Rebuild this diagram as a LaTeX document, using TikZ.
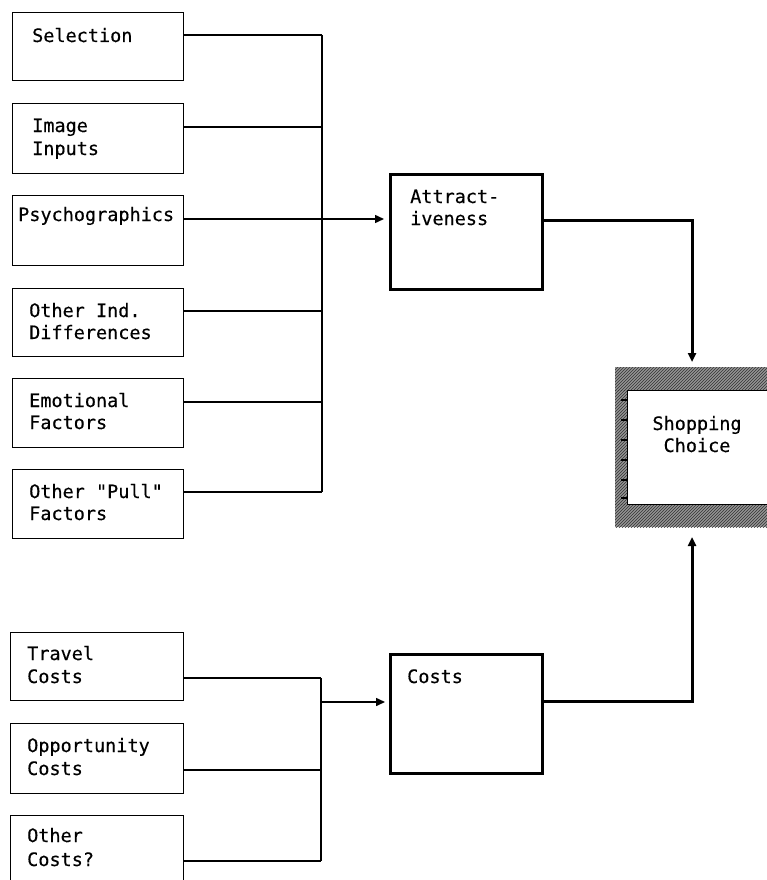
\documentclass[tikz,border=0pt]{standalone}
\usepackage{fontspec}
\newfontfamily\diagfont[FakeBold=0.35]{DejaVu Sans Mono}
\usetikzlibrary{arrows.meta,patterns}
\begin{document}
\begin{tikzpicture}[x=1pt,y=-1pt,
  box/.style={draw, line width=1.2pt, anchor=north west, inner sep=0pt},
  bigbox/.style={draw, line width=3pt, anchor=north west, inner sep=0pt},
  lbl/.style={anchor=base west, inner sep=0pt, font=\fontsize{18.5}{22}\selectfont\diagfont},
  clbl/.style={anchor=base, inner sep=0pt, font=\fontsize{18.5}{22}\selectfont\diagfont},
  con/.style={line width=1.5pt},
  thickcon/.style={line width=3pt},
  arr/.style={-{Triangle[length=9pt,width=8pt]}},
  band/.style={fill=black!42},
  bandpat/.style={pattern=north east lines, pattern color=black!80}]
\useasboundingbox (0,0) rectangle (767,880);

% ---- left boxes (attractiveness inputs)
\node[box, minimum width=171pt, minimum height=68pt] (sel) at (12,12) {};
\node[box, minimum width=171pt, minimum height=70pt] (img) at (12,103) {};
\node[box, minimum width=171pt, minimum height=70pt] (psy) at (12,195) {};
\node[box, minimum width=171pt, minimum height=68pt] (oid) at (12,288) {};
\node[box, minimum width=171pt, minimum height=69pt] (emo) at (12,378) {};
\node[box, minimum width=171pt, minimum height=69pt] (pul) at (12,469) {};

\node[lbl] (selA) at (32,42) {Selection};
\node[lbl] (imgA) at (32,132) {Image};
\node[lbl] (imgB) at (32,155) {Inputs};
\node[lbl] (psyA) at (18,221) {Psychographics};
\node[lbl] (oidA) at (29,317) {Other Ind.};
\node[lbl] (oidB) at (29,339) {Differences};
\node[lbl] (emoA) at (29,407) {Emotional};
\node[lbl] (emoB) at (29,429) {Factors};
\node[lbl] (pulA) at (29,498) {Other "Pull"};
\node[lbl] (pulB) at (29,520) {Factors};

% ---- cost boxes
\node[box, minimum width=173pt, minimum height=68pt] (trv) at (10,632) {};
\node[box, minimum width=173pt, minimum height=70pt] (opp) at (10,723) {};
\node[box, minimum width=173pt, minimum height=75pt] (oco) at (10,815) {};

\node[lbl] (trvA) at (27,660) {Travel};
\node[lbl] (trvB) at (27,683) {Costs};
\node[lbl] (oppA) at (27,752) {Opportunity};
\node[lbl] (oppB) at (27,775) {Costs};
\node[lbl] (ocoA) at (27,842) {Other};
\node[lbl] (ocoB) at (27,866) {Costs?};

% ---- middle boxes
\node[bigbox, minimum width=152pt, minimum height=115pt] (att) at (389,173) {};
\node[lbl] (attA) at (410,203) {Attract-};
\node[lbl] (attB) at (410,225) {iveness};
\node[bigbox, minimum width=152pt, minimum height=119pt] (cst) at (389,653) {};
\node[lbl] (cstA) at (407,683) {Costs};

% ---- shopping choice
\node[anchor=north west, inner sep=0pt, minimum width=160pt, minimum height=160pt] (sc) at (615,367) {};
\fill[band] (615,367) rectangle (775,390);
\fill[band] (615,504) rectangle (775,527);
\fill[band] (615,390) rectangle (627,504);
\path[bandpat] (615,367) rectangle (775,390);
\path[bandpat] (615,504) rectangle (775,527);
\path[bandpat] (615,390) rectangle (627,504);
\draw[line width=1pt] (775,390) -- (627,390) -- (627,504) -- (775,504);
\foreach \ty in {400,420,440,460,480,498}
  \draw[line width=1.5pt] (621,\ty) -- (627,\ty);
\node[clbl] (scA) at (697,430) {Shopping};
\node[clbl] (scB) at (697,452) {Choice};

% ---- attractiveness bus
\coordinate (b1) at (322,35);
\coordinate (b2) at (322,127);
\coordinate (b3) at (322,219);
\coordinate (b4) at (322,311);
\coordinate (b5) at (322,402);
\coordinate (b6) at (322,492);
\draw[con] (b1) -- (b6);
\draw[con] (sel.east |- b1) -- (b1);
\draw[con] (img.east |- b2) -- (b2);
\draw[con] (psy.east |- b3) -- (b3);
\draw[con] (oid.east |- b4) -- (b4);
\draw[con] (emo.east |- b5) -- (b5);
\draw[con] (pul.east |- b6) -- (b6);
\draw[con, arr, shorten >=5pt] (b3) -- (att.west |- b3);

% ---- costs bus
\coordinate (c1) at (321,678);
\coordinate (c2) at (321,770);
\coordinate (c3) at (321,861);
\coordinate (cA) at (321,702);
\draw[con] (c1) -- (c3);
\draw[con] (trv.east |- c1) -- (c1);
\draw[con] (opp.east |- c2) -- (c2);
\draw[con] (oco.east |- c3) -- (c3);
\draw[con, arr, shorten >=4pt] (cA) -- (cst.west |- cA);

% ---- outputs to shopping choice
\coordinate (tA) at (692,362);
\coordinate (tC) at (692,537);
\coordinate (oA) at (541,220);
\coordinate (oC) at (541,701);
\draw[thickcon, arr] (att.east |- oA) -| (tA);
\draw[thickcon, arr] (cst.east |- oC) -| (tC);
\end{tikzpicture}
\end{document}
